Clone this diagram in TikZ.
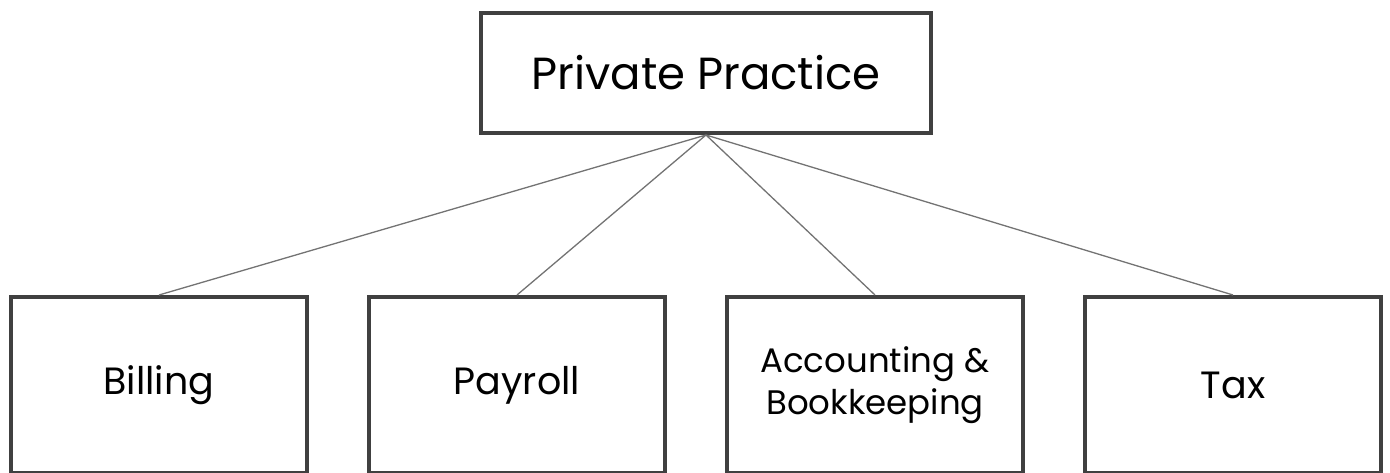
\documentclass[tikz,border=0pt]{standalone}
\usepackage{fontspec}
\setmainfont{Poppins}
\begin{document}
\begin{tikzpicture}[x=1pt,y=-1pt,
  box/.style={draw=black!75,line width=4pt,fill=white,inner sep=0pt,align=center},
  link/.style={draw=black!55,line width=1.3pt}]
\useasboundingbox (0,0) rectangle (1390,473);
\node[box,minimum width=450pt,minimum height=120pt,font=\fontsize{45}{54}\selectfont] (pp) at (706,73) {Private Practice};
\node[box,minimum width=296pt,minimum height=176pt,font=\fontsize{38}{46}\selectfont] (bill) at (159,385) {Billing};
\node[box,minimum width=296pt,minimum height=176pt,font=\fontsize{38}{46}\selectfont] (pay) at (517,385) {Payroll};
\node[box,minimum width=296pt,minimum height=176pt,font=\fontsize{34}{42}\selectfont] (acc) at (875,385) {Accounting \&\\Bookkeeping};
\node[box,minimum width=296pt,minimum height=176pt,font=\fontsize{38}{46}\selectfont] (tax) at (1233,385) {Tax};
\draw[link] (pp.south) -- (bill.north) (pp.south) -- (pay.north) (pp.south) -- (acc.north) (pp.south) -- (tax.north);
\end{tikzpicture}
\end{document}
